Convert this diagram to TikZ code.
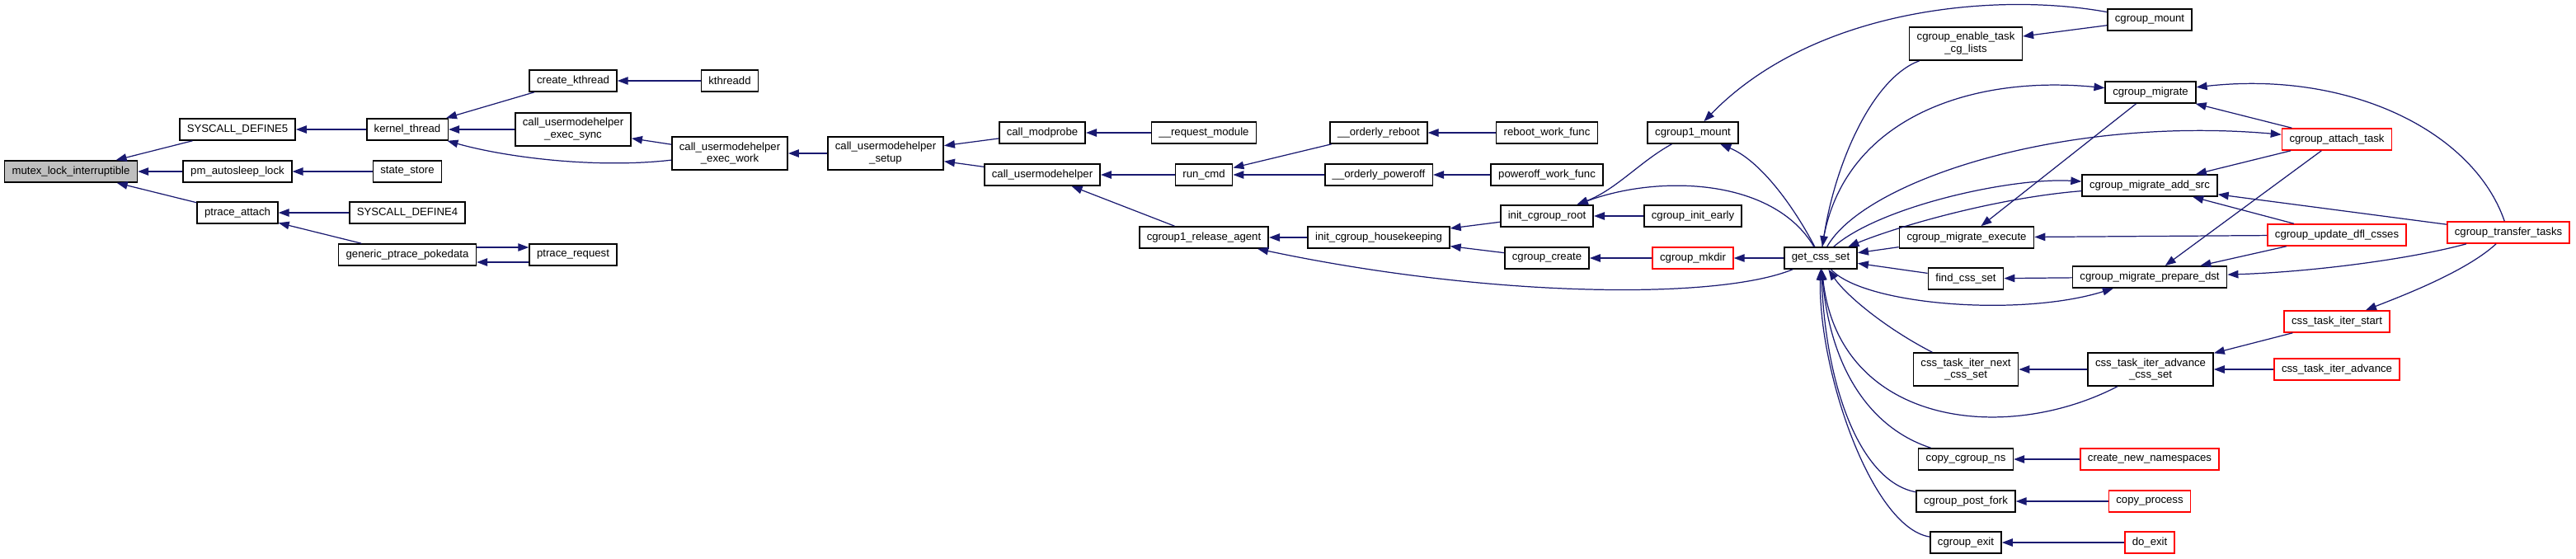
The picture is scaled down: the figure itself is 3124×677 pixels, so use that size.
\documentclass[tikz,border=0pt]{standalone}
\usepackage{fontspec}
\setmainfont{Liberation Sans}
\usetikzlibrary{arrows.meta}
\usepackage{xcolor}
\definecolor{arista}{RGB}{25,25,112}
\definecolor{cajagris}{RGB}{191,191,191}
\definecolor{borderoja}{RGB}{255,0,0}

\begin{document}
\begin{tikzpicture}[x=0.02cm, y=-0.02cm,
  func/.style={rectangle, draw=black, line width=0.9pt, font=\fontsize{7.5}{8.5}\selectfont,
      minimum height=0.52cm, inner xsep=0.18cm, inner ysep=0.1cm, align=center},
  doble/.style={minimum height=0.8cm},
  roja/.style={draw=borderoja},
  llamada/.style={draw=arista, line width=0.7pt, -{Triangle[length=2.6mm,width=1.9mm]}}]
\useasboundingbox (0,0) rectangle (3124,677);
\node[func, fill=cajagris] (mutex) at (86,208) {mutex\_lock\_interruptible};
\node[func] (sysfive) at (288,157) {SYSCALL\_DEFINE5};
\node[func] (pmlock) at (288,208) {pm\_autosleep\_lock};
\node[func] (pattach) at (288,258) {ptrace\_attach};
\node[func] (kthread) at (494,157) {kernel\_thread};
\node[func] (statestore) at (494,208) {state\_store};
\node[func] (sysfour) at (494,258) {SYSCALL\_DEFINE4};
\node[func] (pokedata) at (494,309) {generic\_ptrace\_pokedata};
\node[func] (ckthread) at (695,98) {create\_kthread};
\node[func, doble] (execsync) at (695,157) {call\_usermodehelper\\\_exec\_sync};
\node[func] (preq) at (695,309) {ptrace\_request};
\node[func] (kthreadd) at (885,98) {kthreadd};
\node[func, doble] (execwork) at (885,186) {call\_usermodehelper\\\_exec\_work};
\node[func, doble] (setup) at (1074,186) {call\_usermodehelper\\\_setup};
\node[func] (modprobe) at (1264,161) {call\_modprobe};
\node[func] (umh) at (1264,212) {call\_usermodehelper};
\node[func] (reqmod) at (1460,161) {\_\_request\_module};
\node[func] (runcmd) at (1460,212) {run\_cmd};
\node[func] (release) at (1460,288) {cgroup1\_release\_agent};
\node[func] (oreboot) at (1672,161) {\_\_orderly\_reboot};
\node[func] (opoweroff) at (1672,212) {\_\_orderly\_poweroff};
\node[func] (housekeep) at (1672,288) {init\_cgroup\_housekeeping};
\node[func] (rebootwf) at (1876,161) {reboot\_work\_func};
\node[func] (poweroffwf) at (1876,212) {poweroff\_work\_func};
\node[func] (initroot) at (1876,262) {init\_cgroup\_root};
\node[func] (cgcreate) at (1876,313) {cgroup\_create};
\node[func] (cgonemount) at (2053,161) {cgroup1\_mount};
\node[func] (initearly) at (2053,262) {cgroup\_init\_early};
\node[func, roja] (mkdir) at (2053,313) {cgroup\_mkdir};
\node[func] (getcss) at (2208,313) {get\_css\_set};
\node[func] (cgmount) at (2607,24) {cgroup\_mount};
\node[func, doble] (enable) at (2384,53) {cgroup\_enable\_task\\\_cg\_lists};
\node[func] (migrate) at (2608,112) {cgroup\_migrate};
\node[func, roja] (attach) at (2834,169) {cgroup\_attach\_task};
\node[func] (addsrc) at (2607,225) {cgroup\_migrate\_add\_src};
\node[func] (execute) at (2385,288) {cgroup\_migrate\_execute};
\node[func, roja] (updatedfl) at (2834,285) {cgroup\_update\_dfl\_csses};
\node[func, roja] (transfer) at (3042,282) {cgroup\_transfer\_tasks};
\node[func] (findcss) at (2384,338) {find\_css\_set};
\node[func] (prepdst) at (2607,336) {cgroup\_migrate\_prepare\_dst};
\node[func, roja] (iterstart) at (2834,390) {css\_task\_iter\_start};
\node[func, doble] (iternext) at (2384,448) {css\_task\_iter\_next\\\_css\_set};
\node[func, doble] (advcss) at (2608,448) {css\_task\_iter\_advance\\\_css\_set};
\node[func, roja] (iteradv) at (2834,448) {css\_task\_iter\_advance};
\node[func] (copyns) at (2384,557) {copy\_cgroup\_ns};
\node[func, roja] (newns) at (2607,557) {create\_new\_namespaces};
\node[func] (postfork) at (2384,608) {cgroup\_post\_fork};
\node[func, roja] (copyproc) at (2607,608) {copy\_process};
\node[func] (cgexit) at (2384,658) {cgroup\_exit};
\node[func, roja] (doexit) at (2607,658) {do\_exit};
\draw[llamada] (sysfive) -- (mutex);
\draw[llamada] (pmlock) -- (mutex);
\draw[llamada] (pattach) -- (mutex);
\draw[llamada] (kthread) -- (sysfive);
\draw[llamada] (statestore) -- (pmlock);
\draw[llamada] (sysfour) -- (pattach);
\draw[llamada] (pokedata) -- (pattach);
\draw[llamada] (ckthread) -- (kthread);
\draw[llamada] (execsync) -- (kthread);
\draw[llamada] (execwork) .. controls (720,205) and (610,190) .. (kthread);
\draw[llamada] (kthreadd) -- (ckthread);
\draw[llamada] (execwork) -- (execsync);
\draw[llamada] ([yshift=0.18cm]pokedata.east) -- ([yshift=0.18cm]preq.west);
\draw[llamada] ([yshift=-0.18cm]preq.west) -- ([yshift=-0.18cm]pokedata.east);
\draw[llamada] (setup) -- (execwork);
\draw[llamada] (modprobe) -- (setup);
\draw[llamada] (umh) -- (setup);
\draw[llamada] (reqmod) -- (modprobe);
\draw[llamada] (runcmd) -- (umh);
\draw[llamada] (release) -- (umh);
\draw[llamada] (oreboot) -- (runcmd);
\draw[llamada] (opoweroff) -- (runcmd);
\draw[llamada] (housekeep) -- (release);
\draw[llamada] (getcss) .. controls (2080,365) and (1800,360) .. (release);
\draw[llamada] (rebootwf) -- (oreboot);
\draw[llamada] (poweroffwf) -- (opoweroff);
\draw[llamada] (initroot) -- (housekeep);
\draw[llamada] (cgcreate) -- (housekeep);
\draw[llamada] (cgonemount) .. controls (1990,195) and (1960,230) .. (initroot);
\draw[llamada] (getcss) .. controls (2150,215) and (2010,212) .. (initroot);
\draw[llamada] (initearly) -- (initroot);
\draw[llamada] (mkdir) -- (cgcreate);
\draw[llamada] (getcss) -- (mkdir);
\draw[llamada] (getcss) .. controls (2175,250) and (2135,195) .. (cgonemount);
\draw[llamada] (cgmount) .. controls (2420,-10) and (2200,10) .. (cgonemount);
\draw[llamada] (cgmount) -- (enable);
\draw[llamada] (enable) .. controls (2270,95) and (2225,200) .. (getcss);
\draw[llamada] (getcss) .. controls (2230,150) and (2380,90) .. (migrate);
\draw[llamada] (getcss) .. controls (2260,220) and (2500,140) .. (attach);
\draw[llamada] (getcss) .. controls (2280,250) and (2440,215) .. (addsrc);
\draw[llamada] (addsrc) .. controls (2420,240) and (2300,275) .. (getcss);
\draw[llamada] (execute) -- (getcss);
\draw[llamada] (findcss) -- (getcss);
\draw[llamada] (migrate) -- (execute);
\draw[llamada] (attach) -- (migrate);
\draw[llamada] (transfer) .. controls (3000,160) and (2850,85) .. (migrate);
\draw[llamada] (attach) -- (addsrc);
\draw[llamada] (attach) -- (prepdst);
\draw[llamada] (transfer) -- (addsrc);
\draw[llamada] (updatedfl) -- (addsrc);
\draw[llamada] (updatedfl) -- (execute);
\draw[llamada] (updatedfl) -- (prepdst);
\draw[llamada] (transfer) .. controls (2920,315) and (2800,330) .. (prepdst);
\draw[llamada] (transfer) .. controls (2990,330) and (2910,360) .. (iterstart);
\draw[llamada] (prepdst) -- (findcss);
\draw[llamada] (getcss) .. controls (2260,370) and (2450,385) .. (prepdst);
\draw[llamada] (iterstart) -- (advcss);
\draw[llamada] (iteradv) -- (advcss);
\draw[llamada] (advcss) -- (iternext);
\draw[llamada] (iternext) .. controls (2290,400) and (2240,360) .. (getcss);
\draw[llamada] (advcss) .. controls (2430,540) and (2230,515) .. (getcss);
\draw[llamada] (copyns) .. controls (2270,520) and (2220,450) .. (getcss);
\draw[llamada] (postfork) .. controls (2260,585) and (2215,480) .. (getcss);
\draw[llamada] (cgexit) .. controls (2270,640) and (2205,450) .. (getcss);
\draw[llamada] (newns) -- (copyns);
\draw[llamada] (copyproc) -- (postfork);
\draw[llamada] (doexit) -- (cgexit);
\end{tikzpicture}
\end{document}
